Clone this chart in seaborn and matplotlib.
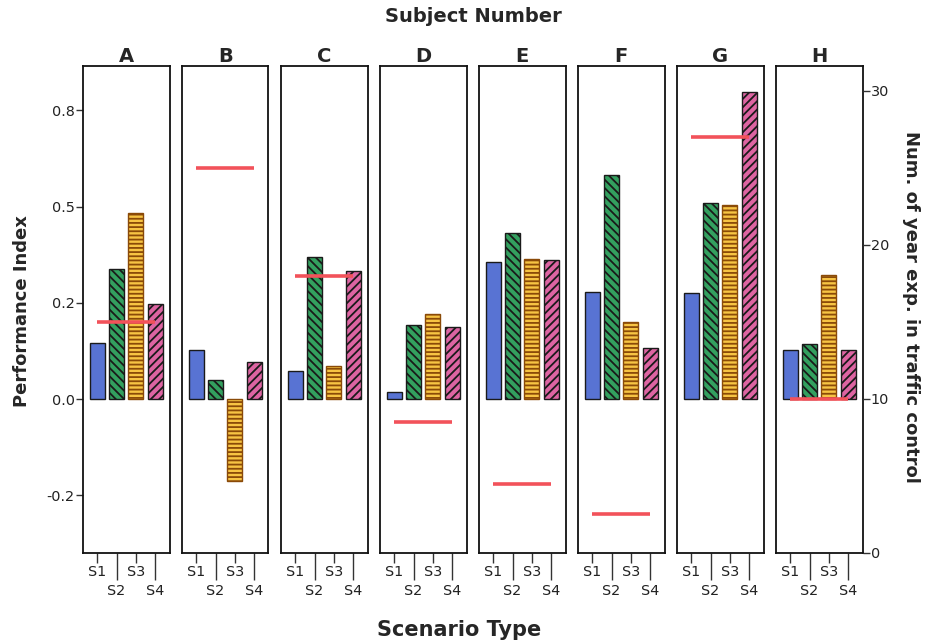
#Performance index per subject and scenario, with years of experience overlay
import numpy as np
import pandas as pd
import seaborn as sns
import matplotlib.pyplot as plt

#Data
subjects = ['A', 'B', 'C', 'D', 'E', 'F', 'G', 'H']
scenarios = ['S1', 'S2', 'S3', 'S4']
perf_S1 = [0.145, 0.127, 0.074, 0.018, 0.356, 0.278, 0.275, 0.127]
perf_S2 = [0.337, 0.049, 0.369, 0.193, 0.430, 0.582, 0.508, 0.143]
perf_S3 = [0.484, -0.212, 0.085, 0.221, 0.364, 0.200, 0.504, 0.322]
perf_S4 = [0.247, 0.096, 0.332, 0.186, 0.360, 0.133, 0.798, 0.127]
years_exp = [15, 25, 18, 8.5, 4.5, 2.5, 27, 10]

left_ticks = [-0.25, 0.0, 0.25, 0.5, 0.75]
left_ticklabels = ['-0.2', '0.0', '0.2', '0.5', '0.8']
right_ticks = [0, 10, 20, 30]

df = pd.DataFrame({'Subject': np.repeat(subjects, 4),
                   'Scenario': scenarios * len(subjects),
                   'Index': [v for vals in zip(perf_S1, perf_S2, perf_S3, perf_S4) for v in vals]})

colors = {'S1': '#5873d3', 'S2': '#33a05f', 'S3': '#f7c443', 'S4': '#dd64a2'}
hatches = {'S1': '', 'S2': '\\\\\\\\', 'S3': '----', 'S4': '////'}
edges = {'S1': '#1a1a1a', 'S2': '#1a1a1a', 'S3': '#8a4a08', 'S4': '#1a1a1a'}

sns.set_style('white')
plt.rcParams['font.family'] = ['DejaVu Sans']
plt.rcParams['hatch.linewidth'] = 1.3

W, H = 926, 642
fig = plt.figure(figsize=(W / 100, H / 100), dpi=100)

ylim_left = (-0.4, 0.865)
ylim_right = (0, 31.6)
tick_kw = dict(width=1, color='#333333', labelsize=10.4, labelcolor='#222222')

for i, subj in enumerate(subjects):
    x0 = 83 + 99 * i
    ax = fig.add_axes([x0 / W, (H - 553) / H, 86.5 / W, 487 / H])
    sub = df[df['Subject'] == subj]
    sns.barplot(data=sub, x='Scenario', y='Index', hue='Scenario', order=scenarios,
                hue_order=scenarios, palette=colors, width=0.77, linewidth=1,
                edgecolor='#1a1a1a', saturation=1, legend=False, ax=ax)
    for p in ax.patches:
        k = scenarios[int(round(p.get_x() + p.get_width() / 2))]
        p.set_hatch(hatches[k])
        p.set_edgecolor(edges[k])

    ax.set_xlim(-0.72, 3.72)
    ax.set_ylim(*ylim_left)
    ax.set_xlabel('')
    ax.set_ylabel('')
    ax.set_title(subj, fontsize=14, fontweight='bold', pad=3)

    #staggered scenario labels: S1/S3 short ticks, S2/S4 long ticks
    ax.set_xticks([0, 2])
    ax.set_xticklabels(['S1', 'S3'])
    ax.set_xticks([1, 3], minor=True)
    ax.set_xticklabels(['S2', 'S4'], minor=True)
    ax.tick_params(axis='x', which='major', direction='out', length=7, pad=2, bottom=True, **tick_kw)
    ax.tick_params(axis='x', which='minor', direction='out', length=19.5, pad=3, bottom=True, **tick_kw)

    if i == 0:
        ax.set_yticks(left_ticks)
        ax.set_yticklabels(left_ticklabels)
        ax.tick_params(axis='y', direction='out', length=5, pad=1, left=True, **tick_kw)
    else:
        ax.set_yticks([])

    for s in ax.spines.values():
        s.set_color('#111111')
        s.set_linewidth(1.3)

    tw = ax.twinx()
    tw.set_ylim(*ylim_right)
    tw.plot([0, 3], [years_exp[i], years_exp[i]], color='#f2525a', lw=2.6, solid_capstyle='butt')
    for s in tw.spines.values():
        s.set_visible(False)
    if i == len(subjects) - 1:
        tw.set_yticks(right_ticks)
        tw.tick_params(axis='y', direction='out', length=5, pad=1, right=True, **tick_kw)
    else:
        tw.set_yticks([])

fig.text(473 / W, 1 - 17 / H, 'Subject Number', ha='center', va='center',
         fontsize=14, fontweight='bold')
fig.text(459 / W, 1 - 630 / H, 'Scenario Type', ha='center', va='center',
         fontsize=15, fontweight='bold')
fig.text(22 / W, 1 - 311 / H, 'Performance Index', ha='center', va='center',
         rotation=90, fontsize=13, fontweight='bold')
fig.text(911 / W, 1 - 307 / H, 'Num. of year exp. in traffic control', ha='center',
         va='center', rotation=270, fontsize=13, fontweight='bold')

fig.savefig('out.png', dpi=100)
